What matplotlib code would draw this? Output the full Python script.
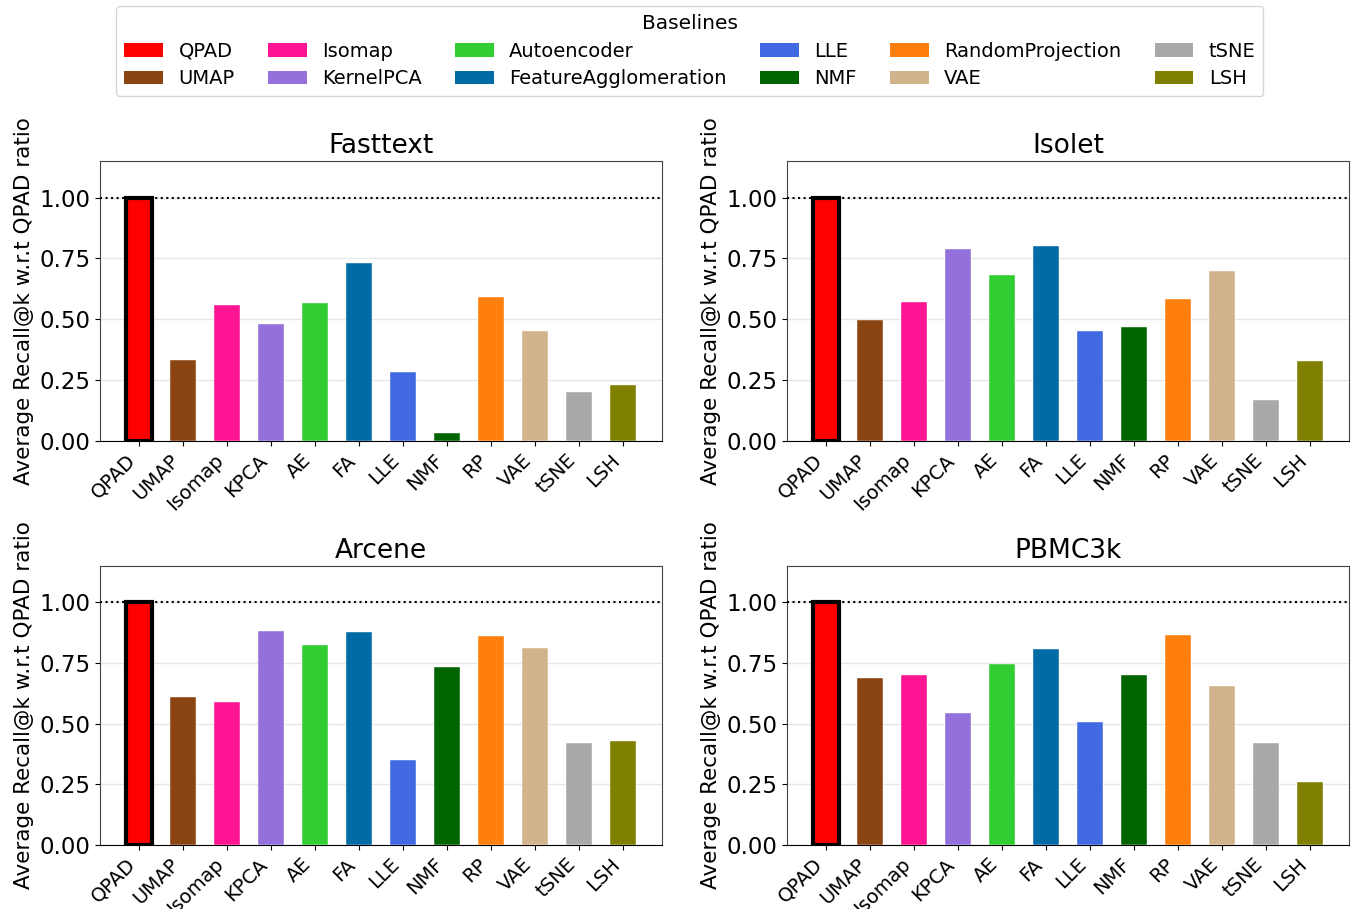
import matplotlib
matplotlib.use("Agg")
import matplotlib.pyplot as plt
from matplotlib.patches import Patch

methods = ["QPAD", "UMAP", "Isomap", "KPCA", "AE", "FA", "LLE", "NMF", "RP", "VAE", "tSNE", "LSH"]
legend_names = ["QPAD", "UMAP", "Isomap", "KernelPCA", "Autoencoder", "FeatureAgglomeration",
                "LLE", "NMF", "RandomProjection", "VAE", "tSNE", "LSH"]
colors = ["#FF0000", "#8B4513", "#FF1493", "#9370DB", "#32CD32", "#006BA4",
          "#4169E1", "#006400", "#FF7F0E", "#D2B48C", "#A9A9A9", "#808000"]

datasets = ["Fasttext", "Isolet", "Arcene", "PBMC3k"]
fasttext = [1.0, 0.333, 0.557, 0.482, 0.565, 0.732, 0.283, 0.032, 0.592, 0.452, 0.203, 0.232]
isolet = [1.0, 0.497, 0.57, 0.79, 0.68, 0.80, 0.45, 0.47, 0.585, 0.697, 0.17, 0.33]
arcene = [1.0, 0.61, 0.59, 0.882, 0.826, 0.878, 0.35, 0.732, 0.862, 0.813, 0.422, 0.43]
pbmc3k = [1.0, 0.687, 0.699, 0.543, 0.748, 0.806, 0.507, 0.702, 0.867, 0.654, 0.422, 0.26]
values = [fasttext, isolet, arcene, pbmc3k]

W, H = 1358, 909
fig = plt.figure(figsize=(W / 100, H / 100), dpi=100)

# axes boxes in pixels: (left, top, right, bottom)
boxes = [(100, 161, 662, 441), (787, 161, 1349, 441),
         (100, 566, 662, 845), (787, 566, 1349, 845)]

for name, vals, (l, t, r, b) in zip(datasets, values, boxes):
    ax = fig.add_axes([l / W, 1 - b / H, (r - l) / W, (b - t) / H])
    x = list(range(len(methods)))
    bars = ax.bar(x, vals, width=0.6, color=colors, edgecolor="white", linewidth=0.3, zorder=3)
    bars[0].set_edgecolor("black")
    bars[0].set_linewidth(3)
    ax.axhline(1.0, color="black", linestyle=":", linewidth=1.5, zorder=4)
    ax.set_ylim(0, 1.15)
    ax.set_yticks([0, 0.25, 0.5, 0.75, 1.0])
    ax.set_yticklabels(["0.00", "0.25", "0.50", "0.75", "1.00"], fontsize=16.5)
    ax.set_xticks(x)
    ax.set_xticklabels(methods, rotation=45, ha="right", fontsize=14)
    ax.grid(axis="y", color="#e6e6e6", linewidth=1, zorder=0)
    ax.set_axisbelow(True)
    ax.set_title(name, fontsize=19)
    ax.set_ylabel("Average Recall@k w.r.t QPAD ratio", fontsize=15.5)
    for s in ["top", "right", "left"]:
        ax.spines[s].set_color("#444444")
    ax.spines["bottom"].set_color("black")

handles = [Patch(facecolor=c, label=n) for c, n in zip(colors, legend_names)]
fig.legend(handles=handles, loc="upper center", bbox_to_anchor=(0.508, 1 - 6 / H), ncol=6,
           fontsize=14, title="Baselines", title_fontsize=14.5, frameon=True,
           columnspacing=1.7, handlelength=2.0, labelspacing=0.45, borderaxespad=0)

fig.savefig("out.png", dpi=100)
